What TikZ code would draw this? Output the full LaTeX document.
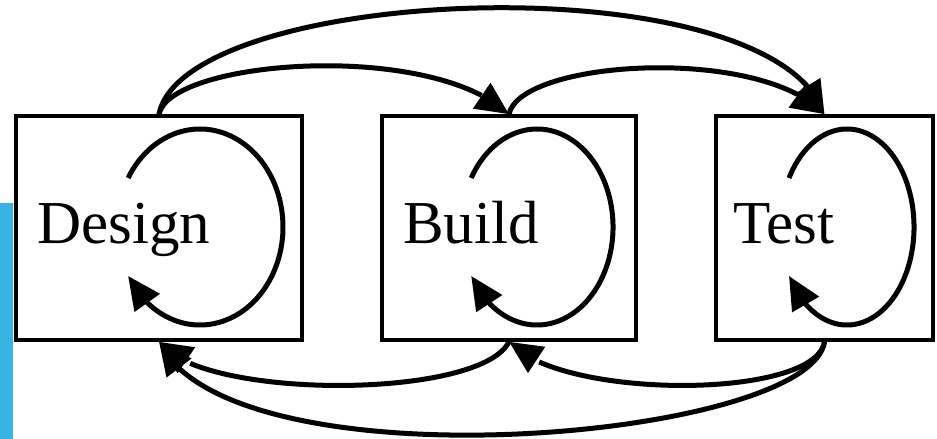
\documentclass[tikz,border=0pt]{standalone}
\usepackage{fontspec}
\setmainfont{Liberation Serif}
\usetikzlibrary{arrows.meta,bending}
\definecolor{sidebar}{RGB}{56,180,226}
\begin{document}
\begin{tikzpicture}[x=1pt,y=-1pt,
  box/.style={draw, line width=3.6pt, inner sep=0pt},
  lbl/.style={anchor=base west, inner sep=0pt, font=\fontsize{61}{70}\selectfont},
  flow/.style={line width=5pt, -{Triangle[length=33pt,width=30pt]}},
]
\useasboundingbox (0,0) rectangle (937,439);
\fill[sidebar] (0,203) rectangle (13,439);
\node[box, minimum width=286pt, minimum height=224pt] (design) at (159,228) {};
\node[box, minimum width=253.5pt, minimum height=224pt] (build) at (509,228) {};
\node[box, minimum width=217pt, minimum height=224pt] (test) at (824.5,228) {};
\node[lbl] (designlbl) at (37,243) {Design};
\node[lbl] (buildlbl) at (403,243) {Build};
\node[lbl] (testlbl) at (733,243) {Test};
% top arcs
\draw[flow] (design.north) .. controls (170,60) and (430,40) .. (build.north);
\draw[flow] (design.north) .. controls (185,-15) and (770,-40) .. (test.north);
\draw[flow] (build.north) .. controls (520,60) and (760,45) .. (test.north);
% bottom arcs
\draw[flow] (test.south) .. controls (815,400) and (560,400) .. (build.south);
\draw[flow] (build.south) .. controls (480,400) and (200,400) .. (design.south);
\draw[flow] (test.south) .. controls (810,440) and (230,490) .. (design.south);
% self loops
\coordinate (dloop) at (128.1,178);
\coordinate (bloop) at (471.2,178);
\coordinate (tloop) at (789,178);
\draw[flow] (dloop) arc[start angle=150, end angle=-150, x radius=83pt, y radius=98pt];
\draw[flow] (bloop) arc[start angle=150, end angle=-150, x radius=76pt, y radius=98pt];
\draw[flow] (tloop) arc[start angle=150, end angle=-150, x radius=67pt, y radius=98pt];
\end{tikzpicture}
\end{document}
